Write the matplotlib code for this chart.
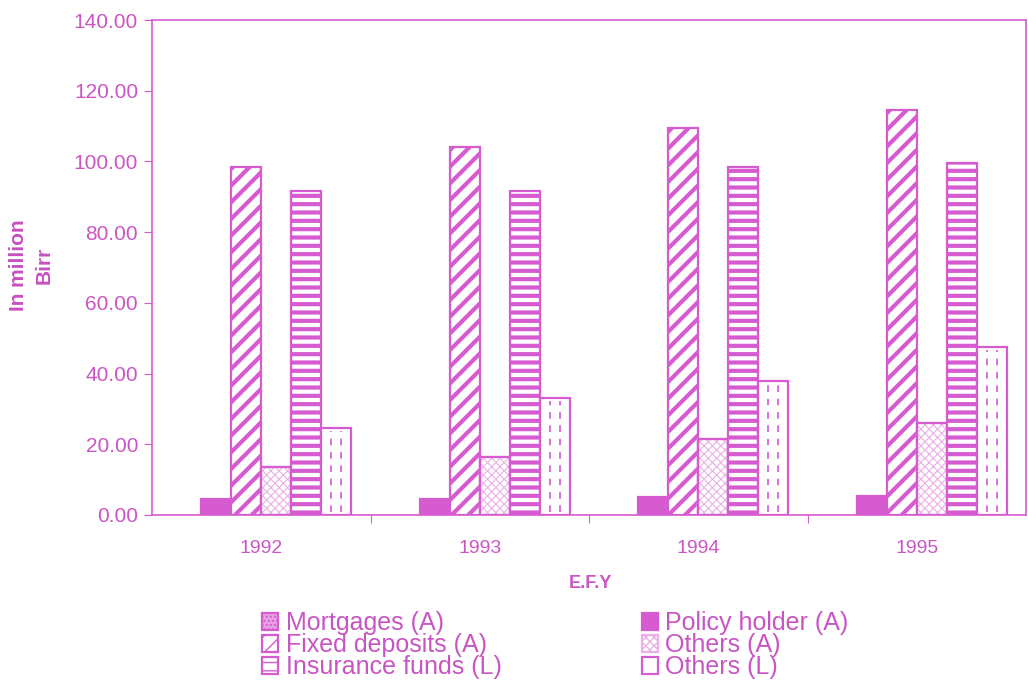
import numpy as np
import matplotlib.pyplot as plt
from matplotlib.patches import Patch

years = ["1992", "1993", "1994", "1995"]
mortgages = [0.0, 0.0, 0.0, 0.0]
policy_holder = [4.5, 4.5, 5.0, 5.5]
fixed_deposits = [98.5, 104.0, 109.5, 114.5]
others_a = [13.5, 16.5, 21.5, 26.0]
insurance_funds = [91.5, 91.5, 98.5, 99.5]
others_l = [24.5, 33.0, 38.0, 47.5]

pink = "#D65AD0"
text_pink = "#CC55C4"
light_pink = "#EBB0E6"

plt.rcParams["font.family"] = ["Liberation Sans", "DejaVu Sans"]

fig = plt.figure(figsize=(10.28, 6.9), dpi=100)
ax = fig.add_axes([152 / 1028, 175 / 690, 874 / 1028, 495 / 690])

x = np.arange(len(years))
w = 0.137
offsets = (np.arange(6) - 2.5) * w

def hatched(vals, i, label, hatch, face="white", edge=pink, hlw=1.0, lw=1.6):
    plt.rcParams["hatch.linewidth"] = hlw
    bars = ax.bar(x + offsets[i], vals, w, label=label, facecolor=face,
                  edgecolor=edge, linewidth=lw, hatch=hatch)
    for b in bars:
        if hasattr(b, "set_hatch_linewidth"):
            b.set_hatch_linewidth(hlw)
    return bars

# mortgages are zero: no outline on the axis, only a legend swatch
hatched(mortgages, 0, "Mortgages (A)", None, lw=0)
plt.rcParams["hatch.linewidth"] = 0.8
h_mort = Patch(facecolor="#E8A0E2", edgecolor=pink, hatch="....",
               linewidth=1.6, label="Mortgages (A)")
b_pol = hatched(policy_holder, 1, "Policy holder (A)", None, face=pink)
b_fix = hatched(fixed_deposits, 2, "Fixed deposits (A)", "//", hlw=3.0)
b_oa = hatched(others_a, 3, "Others (A)", "xxxx", edge=light_pink, hlw=0.8)
ax.bar(x + offsets[3], others_a, w, fill=False, edgecolor=pink, linewidth=1.6)
b_ins = hatched(insurance_funds, 4, "Insurance funds (L)", "--", hlw=3.0)
b_ol = hatched(others_l, 5, "Others (L)", None)

# dashed strokes inside the Others (L) bars
for k in (-w / 6, w / 6):
    ax.vlines(x + offsets[5] + k, 0.8, np.array(others_l) - 0.8,
              colors=pink, linestyles=(0, (4, 4)), linewidth=1.2)

ax.set_xlim(-0.5, 3.5)
ax.set_ylim(0, 140)
ax.set_yticks(np.arange(0, 141, 20))
ax.set_yticklabels([f"{v:.2f}" for v in np.arange(0, 141, 20)])

# category boundaries carry the ticks, labels sit at the centres
ax.set_xticks([0.5, 1.5, 2.5])
ax.set_xticklabels([])
ax.set_xticks(x, minor=True)
ax.set_xticklabels(years, minor=True)
ax.tick_params(axis="x", which="major", length=6, color=pink, direction="out")
ax.tick_params(axis="x", which="minor", length=0, labelsize=14,
               labelcolor=text_pink, pad=18)
ax.tick_params(axis="y", length=6, color=pink, labelsize=15,
               labelcolor=text_pink, pad=4)

for s in ax.spines.values():
    s.set_color(pink)
    s.set_linewidth(1.2)

fig.text(31 / 1028, 1 - 265 / 690, "In million\nBirr", rotation=90,
         ha="center", va="center", fontsize=15, fontweight="bold",
         color="#C84FC0", linespacing=1.45)
fig.text(590 / 1028, 1 - 583 / 690, "E.F.Y", ha="center", va="center",
         fontsize=13, fontweight="bold", color=text_pink)

handles = [h_mort, b_fix, b_ins, b_pol, b_oa, b_ol]
labels = [h.get_label() for h in handles]
fig.legend(handles, labels, loc="upper left",
           bbox_to_anchor=(262 / 1028, 1 - 611 / 690), ncol=2,
           frameon=False, fontsize=18, labelcolor="#C855C4",
           handlelength=0.65, handleheight=0.65, handletextpad=0.3,
           labelspacing=-0.08, columnspacing=5.6, borderpad=0,
           borderaxespad=0)

fig.savefig("out.png", dpi=100)
